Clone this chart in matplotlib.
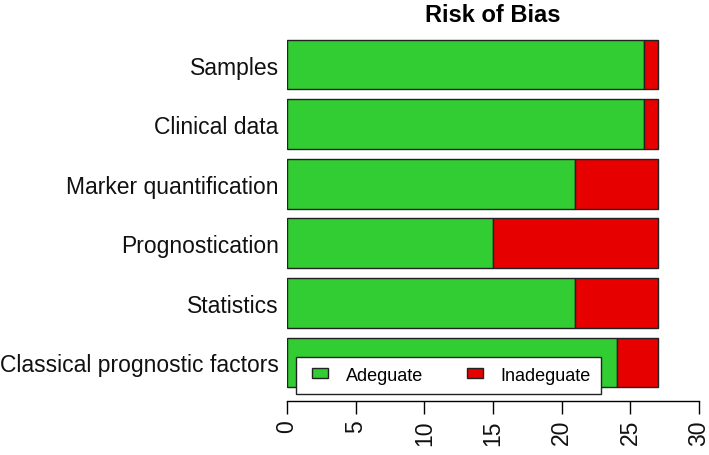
import matplotlib
matplotlib.use("Agg")
import matplotlib.pyplot as plt
from matplotlib.patches import Patch, Rectangle
from matplotlib.legend_handler import HandlerPatch

# data, bottom to top (as in the R barplot)
domains = ["Classical prognostic factors", "Statistics", "Prognostication",
           "Marker quantification", "Clinical data", "Samples"]
adeguate = [24, 21, 15, 21, 26, 26]
inadeguate = [3, 6, 12, 6, 1, 1]
ticks = [0, 5, 10, 15, 20, 25, 30]

green = "#32CD32"
red = "#E60000"

plt.rcParams["font.family"] = ["Liberation Sans", "DejaVu Sans"]

fig = plt.figure(figsize=(7.09, 4.56), dpi=100)
ax = fig.add_axes([287 / 709, 54 / 456, 412 / 709, 375 / 456])

pos = [0.7 + 1.2 * i for i in range(len(domains))]
ax.barh(pos, adeguate, height=1, color=green, edgecolor="#222222", linewidth=1)
ax.barh(pos, inadeguate, left=adeguate, height=1, color=red,
        edgecolor="#222222", linewidth=1)

ax.set_xlim(0, 30)
ax.set_ylim(-0.08, 7.48)
for s in ["top", "right", "left"]:
    ax.spines[s].set_visible(False)
ax.spines["bottom"].set_linewidth(1)

ax.set_yticks(pos)
ax.set_yticklabels(domains, fontsize=16.5, color="#111111")
ax.tick_params(axis="y", length=0, pad=6)

ax.set_xticks(ticks)
ax.set_xticklabels([str(t) for t in ticks], rotation=90, fontsize=16.5,
                   color="#111111")
ax.tick_params(axis="x", length=9, width=1, pad=4)

fig.text(493 / 709, 1 - 15 / 456, "Risk of Bias", ha="center", va="center",
         fontsize=17, fontweight="bold")


# small R-style legend boxes, sitting at the right of the handle area
def small_box(legend, orig_handle, xdescent, ydescent, width, height, fontsize):
    w = 11
    h = 7
    return Rectangle((-xdescent + width - w, -ydescent + (height - h) / 2), w, h)


handles = [Patch(facecolor=green, edgecolor="#222222", label="Adeguate"),
           Patch(facecolor=red, edgecolor="#222222", label="Inadeguate")]
leg = ax.legend(handles=handles, loc="lower left", bbox_to_anchor=(0.66, 0.07),
                bbox_transform=ax.transData, ncol=2, fontsize=13,
                frameon=True, fancybox=False, borderaxespad=0,
                handlelength=1.2, handleheight=0.6, handletextpad=1.0,
                columnspacing=2.1, borderpad=0.55,
                handler_map={Patch: HandlerPatch(patch_func=small_box)})
leg.get_frame().set_edgecolor("#222222")
leg.get_frame().set_linewidth(1)
leg.get_frame().set_alpha(1)

fig.savefig("out.png", dpi=100)
